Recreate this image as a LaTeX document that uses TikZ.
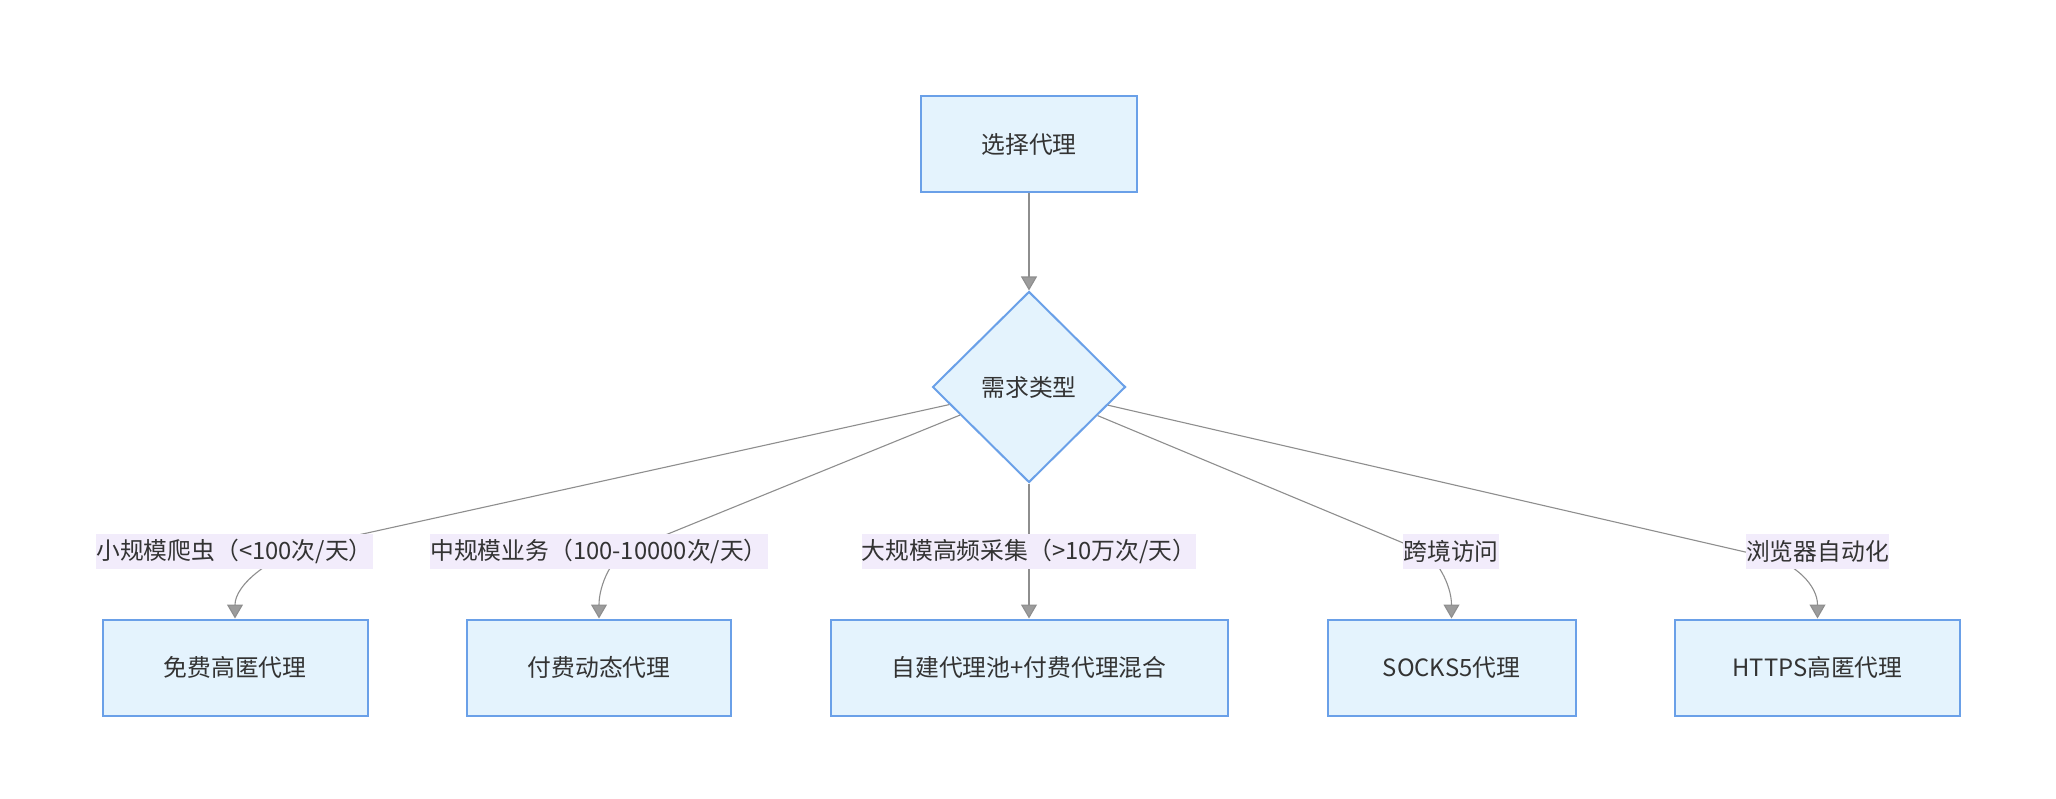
\documentclass[tikz,border=0pt]{standalone}
\usepackage{fontspec}
\setmainfont{Noto Sans CJK SC}
\usetikzlibrary{shapes.geometric,arrows.meta}
\definecolor{boxfill}{HTML}{E4F3FD}
\definecolor{boxline}{HTML}{6AA0E8}
\definecolor{lblfill}{HTML}{F2ECFB}
\definecolor{edgecol}{HTML}{8E8E8E}
\definecolor{arrfill}{HTML}{9C9C9C}
\definecolor{txt}{HTML}{333333}
\begin{document}
\begin{tikzpicture}[x=1pt,y=-1pt,
  font=\fontsize{23.8}{28}\selectfont,
  box/.style={draw=boxline, fill=boxfill, line width=2pt, minimum height=96pt, inner sep=0pt, text=txt},
  dia/.style={diamond, draw=boxline, fill=boxfill, line width=2pt, minimum width=193pt, minimum height=191pt, inner sep=0pt, text=txt},
  lbl/.style={fill=lblfill, inner xsep=0pt, inner ysep=0pt, minimum height=35pt, text=txt},
  edge/.style={draw=edgecol, line width=1.1pt},
  arr/.style={edge, -{Triangle[width=16pt,length=14pt,fill=arrfill]}}]
\path[fill=white, use as bounding box] (0,0) rectangle (2056,799);

\node[box, minimum width=216pt] (top) at (1029,144) {选择代理};
\node[dia] (d) at (1029,387) {需求类型};
\node[box, minimum width=265pt] (b1) at (235,667.5) {免费高匿代理};
\node[box, minimum width=264pt] (b2) at (599,667.5) {付费动态代理};
\node[box, minimum width=397pt] (b3) at (1029,667.5) {自建代理池+付费代理混合};
\node[box, minimum width=248pt] (b4) at (1451.5,667.5) {SOCKS5代理};
\node[box, minimum width=285pt] (b5) at (1817.5,667.5) {HTTPS高匿代理};

\coordinate (p1) at (320,543.4);
\coordinate (p2) at (628.5,550);
\coordinate (p4) at (1420,550);
\coordinate (p5) at (1770,557.7);

\draw[arr] (top) -- (d);
\draw[arr] (d) -- (p1) .. controls (270,555) and (235,585) .. (b1.north);
\draw[arr] (d) -- (p2) .. controls (612,556.5) and (599,585) .. (b2.north);
\draw[arr] (d) -- (b3);
\draw[arr] (d) -- (p4) .. controls (1436.6,557) and (1451.5,585) .. (b4.north);
\draw[arr] (d) -- (p5) .. controls (1794.4,563.4) and (1817.5,585) .. (b5.north);

\node[lbl] (l1) at (234.5,551.5) {小规模爬虫（<100次/天）};
\node[lbl] (l2) at (599,551.5) {中规模业务（100-10000次/天）};
\node[lbl] (l3) at (1029,551.5) {大规模高频采集（>10万次/天）};
\node[lbl] (l4) at (1451,551.5) {跨境访问};
\node[lbl] (l5) at (1817.5,551.5) {浏览器自动化};
\end{tikzpicture}
\end{document}
